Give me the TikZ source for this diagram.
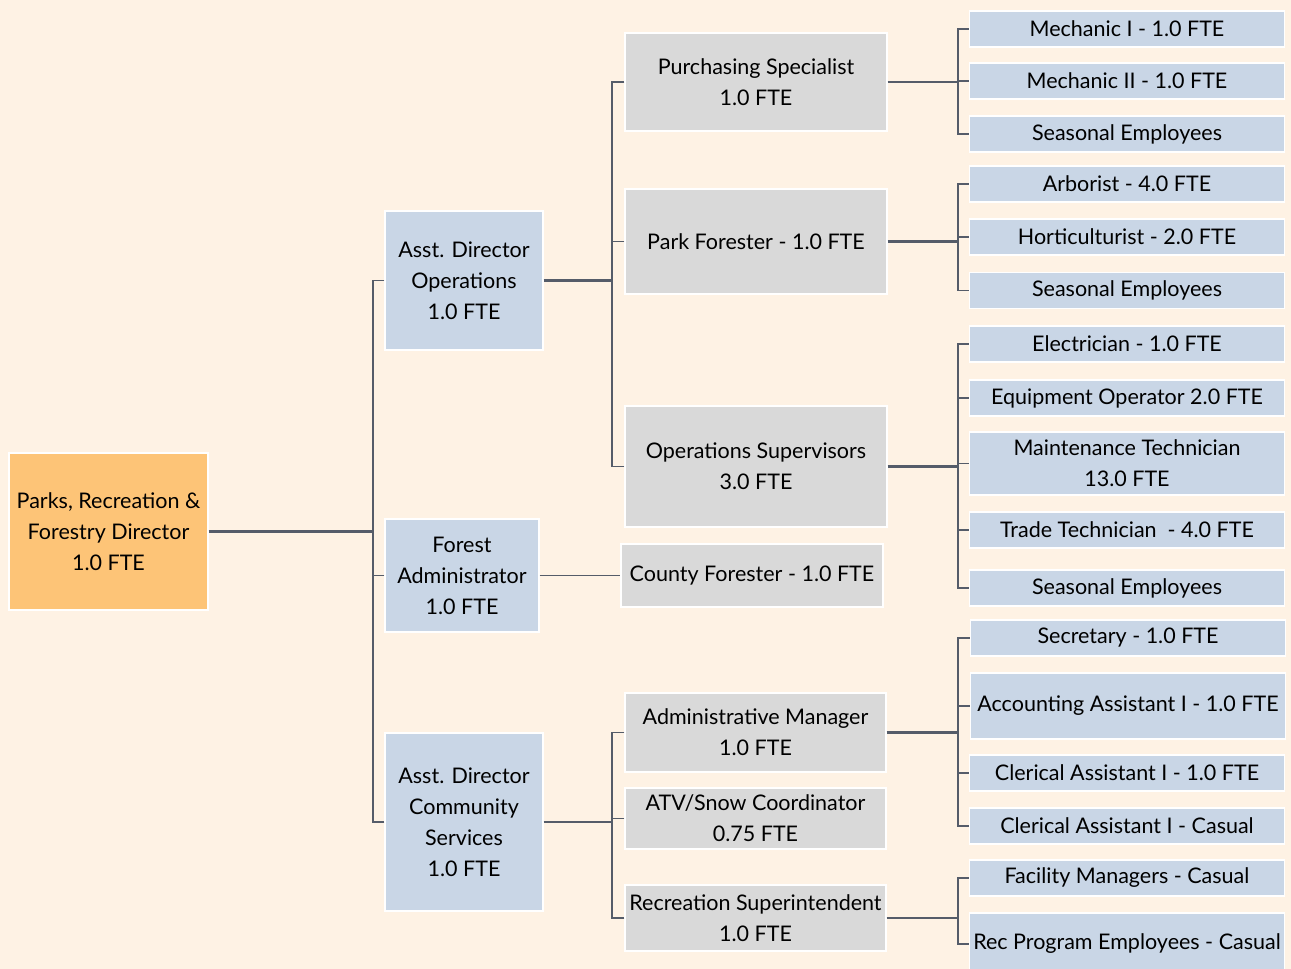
\documentclass[tikz,border=0pt]{standalone}
\usepackage{fontspec}
\setmainfont{Lato}
\usetikzlibrary{positioning,calc}
\definecolor{bgcream}{RGB}{254,242,228}
\definecolor{dirorange}{RGB}{253,196,119}
\definecolor{boxblue}{RGB}{201,214,230}
\definecolor{boxgray}{RGB}{217,217,217}
\definecolor{linegray}{RGB}{85,92,105}

\begin{document}
\begin{tikzpicture}[
  x=1pt, y=-1pt,
  box/.style={draw=white, line width=1.2pt, align=center, inner sep=0pt, text=black, font=\fontsize{21.5}{31}\selectfont},
  head/.style={box, fill=dirorange},
  adir/.style={box, fill=boxblue},
  mgr/.style={box, fill=boxgray, minimum width=262},
  staff/.style={box, fill=boxblue, minimum width=315, minimum height=36},
  link/.style={draw=linegray, line width=2.4pt},
  stub/.style={draw=linegray, line width=1.8pt}
]
\fill[bgcream] (0,0) rectangle (1291,969);
\useasboundingbox (0,0) rectangle (1291,969);

% director and assistant directors
\node[head, minimum width=199, minimum height=157] (dir) at (108.5,531.5) {Parks, Recreation \&\\Forestry Director\\1.0 FTE};
\node[adir, minimum width=158, minimum height=139] (ado) at (464,280.5) {Asst. Director\\Operations\\1.0 FTE};
\node[adir, minimum width=154, minimum height=113] (fa) at (462,575.5) {Forest\\Administrator\\1.0 FTE};
\node[adir, minimum width=158, minimum height=178] (adc) at (464,822) {Asst. Director\\Community\\Services\\1.0 FTE};

% managers
\node[mgr, minimum height=98] (ps) at (756,82) {Purchasing Specialist\\1.0 FTE};
\node[mgr, minimum height=105] (pf) at (756,241.5) {Park Forester - 1.0 FTE};
\node[mgr, minimum height=121] (os) at (756,466.5) {Operations Supervisors\\3.0 FTE};
\node[mgr, minimum height=63] (cf) at (752,575.5) {County Forester - 1.0 FTE};
\node[mgr, minimum width=261, minimum height=79] (am) at (755.5,732.5) {Administrative Manager\\1.0 FTE};
\node[mgr, minimum width=261, minimum height=61] (atv) at (755.5,818.5) {ATV/Snow Coordinator\\0.75 FTE};
\node[mgr, minimum width=261, minimum height=66] (rs) at (755.5,918) {Recreation Superintendent\\1.0 FTE};

% staff
\node[staff] (mc1) at (1127,29) {Mechanic I - 1.0 FTE};
\node[staff] (mc2) at (1127,81) {Mechanic II - 1.0 FTE};
\node[staff] (se1) at (1127,134) {Seasonal Employees};
\node[staff] (arb) at (1127,184) {Arborist - 4.0 FTE};
\node[staff] (hor) at (1127,237) {Horticulturist - 2.0 FTE};
\node[staff] (se2) at (1127,290.5) {Seasonal Employees};
\node[staff] (ele) at (1127,344) {Electrician - 1.0 FTE};
\node[staff] (eqo) at (1127,398) {Equipment Operator 2.0 FTE};
\node[staff, minimum height=63] (mt) at (1127,463.5) {Maintenance Technician\\13.0 FTE};
\node[staff] (tt) at (1127,530) {Trade Technician\ \ - 4.0 FTE};
\node[staff] (se3) at (1127,588) {Seasonal Employees};
\node[staff] (sec) at (1128,638) {Secretary - 1.0 FTE};
\node[staff, minimum height=66] (acc) at (1128,706) {Accounting Assistant I - 1.0 FTE};
\node[staff] (cl1) at (1127,773) {Clerical Assistant I - 1.0 FTE};
\node[staff] (cl2) at (1127,826) {Clerical Assistant I - Casual};
\node[staff] (fm) at (1127,878) {Facility Managers - Casual};
\node[staff, minimum height=62] (rp) at (1127,944) {Rec Program Employees - Casual};

% bus points
\coordinate (b1) at (373,531.5);
\coordinate (b2) at (612,280.5);
\coordinate (b3) at (612,822);
\coordinate (b4) at (958,82);
\coordinate (b5) at (958,241.5);
\coordinate (b6) at (958,466.5);
\coordinate (b7) at (958,732.5);
\coordinate (b8) at (958,918);

% connectors
\draw[link] (dir.east) -- (b1);
\foreach \c in {ado,fa,adc} \draw[stub] (\c.west) -| (b1);
\draw[link] (ado.east) -- (b2);
\foreach \c in {ps,pf,os} \draw[stub] (\c.west) -| (b2);
\draw[stub] (fa.east) -- (cf.west);
\draw[link] (adc.east) -- (b3);
\foreach \c in {am,atv,rs} \draw[stub] (\c.west) -| (b3);
\draw[link] (ps.east) -- (b4);
\foreach \c in {mc1,mc2,se1} \draw[stub] (\c.west) -| (b4);
\draw[link] (pf.east) -- (b5);
\foreach \c in {arb,hor,se2} \draw[stub] (\c.west) -| (b5);
\draw[link] (os.east) -- (b6);
\foreach \c in {ele,eqo,mt,tt,se3} \draw[stub] (\c.west) -| (b6);
\draw[link] (am.east) -- (b7);
\foreach \c in {sec,acc,cl1,cl2} \draw[stub] (\c.west) -| (b7);
\draw[link] (rs.east) -- (b8);
\foreach \c in {fm,rp} \draw[stub] (\c.west) -| (b8);
\end{tikzpicture}
\end{document}
